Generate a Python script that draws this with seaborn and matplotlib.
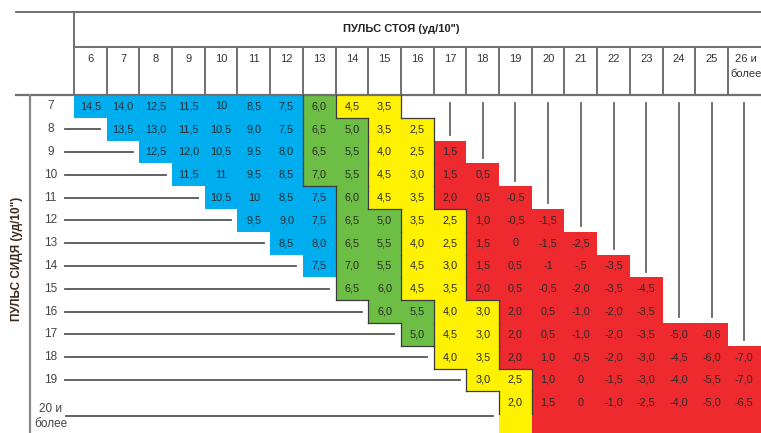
import numpy as np
import matplotlib
matplotlib.use("Agg")
import matplotlib.pyplot as plt
import seaborn as sns
from matplotlib import font_manager
from matplotlib.colors import ListedColormap

# standing pulse (columns) and sitting pulse (rows), beats per 10 s
standing = ["6", "7", "8", "9", "10", "11", "12", "13", "14", "15", "16",
            "17", "18", "19", "20", "21", "22", "23", "24", "25", "26 и\nболее"]
sitting = ["7", "8", "9", "10", "11", "12", "13", "14", "15", "16", "17",
           "18", "19", "20 и\nболее"]

# first standing pulse for each sitting row
row_start = [6, 7, 8, 9, 10, 11, 12, 13, 14, 15, 16, 17, 18, 19]

row_values = [
    ["14,5", "14,0", "12,5", "11,5", "10", "8,5", "7,5", "6,0", "4,5", "3,5"],
    ["13,5", "13,0", "11,5", "10,5", "9,0", "7,5", "6,5", "5,0", "3,5", "2,5"],
    ["12,5", "12,0", "10,5", "9,5", "8,0", "6,5", "5,5", "4,0", "2,5", "1,5"],
    ["11,5", "11", "9,5", "8,5", "7,0", "5,5", "4,5", "3,0", "1,5", "0,5"],
    ["10,5", "10", "8,5", "7,5", "6,0", "4,5", "3,5", "2,0", "0,5", "-0,5"],
    ["9,5", "9,0", "7,5", "6,5", "5,0", "3,5", "2,5", "1,0", "-0,5", "-1,5"],
    ["8,5", "8,0", "6,5", "5,5", "4,0", "2,5", "1,5", "0", "-1,5", "-2,5"],
    ["7,5", "7,0", "5,5", "4,5", "3,0", "1,5", "0,5", "-1", "-,5", "-3,5"],
    ["6,5", "6,0", "4,5", "3,5", "2,0", "0,5", "-0,5", "-2,0", "-3,5", "-4,5"],
    ["6,0", "5,5", "4,0", "3,0", "2,0", "0,5", "-1,0", "-2,0", "-3,5"],
    ["5,0", "4,5", "3,0", "2,0", "0,5", "-1,0", "-2,0", "-3,5", "-5,0", "-0,6"],
    ["4,0", "3,5", "2,0", "1,0", "-0,5", "-2,0", "-3,0", "-4,5", "-6,0", "-7,0"],
    ["3,0", "2,5", "1,0", "0", "-1,5", "-3,0", "-4,0", "-5,5", "-7,0"],
    ["2,0", "1,5", "0", "-1,0", "-2,5", "-4,0", "-5,0", "-6,5"],
]

# how many cells of each colour zone in every row (left to right)
n_blue = [7, 6, 5, 4, 4, 3, 2, 1, 0, 0, 0, 0, 0, 0]
n_green = [1, 2, 2, 2, 1, 2, 2, 2, 2, 2, 1, 0, 0, 0]
n_yellow = [2, 2, 2, 2, 2, 2, 2, 2, 2, 2, 2, 2, 2, 1]
n_red = [0, 0, 1, 2, 3, 3, 4, 5, 6, 5, 7, 8, 7, 7]

zone_colors = ["#00aeef", "#6dbe45", "#fff200", "#ee2a2e"]

title_top = 'ПУЛЬС СТОЯ (уд/10")'
title_left = 'ПУЛЬС СИДЯ (уд/10")'

# fonts: a narrow face if there is one
installed = {f.name for f in font_manager.fontManager.ttflist}
narrow = "Liberation Sans Narrow" if "Liberation Sans Narrow" in installed else "Liberation Sans"
fam = [narrow, "DejaVu Sans"]

# build matrices for the heatmap
n_rows, n_cols = len(sitting), len(standing)
zones = np.full((n_rows + 1, n_cols), np.nan)
annot = np.full((n_rows + 1, n_cols), "", dtype=object)
for i in range(n_rows):
    j0 = row_start[i] - 6
    seq = [1] * n_blue[i] + [2] * n_green[i] + [3] * n_yellow[i] + [4] * n_red[i]
    for k, z in enumerate(seq):
        zones[i, j0 + k] = z
        annot[i, j0 + k] = row_values[i][k]
# last row runs down to the bottom edge
zones[n_rows] = zones[n_rows - 1]

fig = plt.figure(figsize=(7.61, 4.33), dpi=100)
ax = fig.add_axes([0, 0, 1, 1])

sns.heatmap(zones, cmap=ListedColormap(zone_colors), vmin=0.5, vmax=4.5,
            annot=annot, fmt="", cbar=False, ax=ax, linewidths=0,
            annot_kws={"fontsize": 7.8, "color": "#2a2a2a", "family": fam})

x_left = -74 / 32.7
ax.set_xlim(x_left, n_cols + 0.01)
ax.set_ylim((433 - 95) / 22.8, -95 / 22.8)
ax.axis("off")

line_c = "#707070"
y_top = -83 / 22.8
y_mid = -48 / 22.8
x_box = -58 / 32.7

# header frame
ax.plot([x_box, n_cols], [y_top, y_top], color=line_c, lw=1.4, clip_on=False)
ax.plot([0, n_cols], [y_mid, y_mid], color=line_c, lw=1.4)
ax.plot([x_box, n_cols], [0, 0], color=line_c, lw=1.6)
ax.plot([0, 0], [y_top, 0], color=line_c, lw=1.4)
for j in range(1, n_cols):
    ax.plot([j, j], [y_mid, 0], color=line_c, lw=1.4)
ax.plot([-44 / 32.7, -44 / 32.7], [0, 20], color="#888888", lw=1.6)

ax.text(n_cols / 2 - 0.5, (y_top + y_mid) / 2, title_top, ha="center", va="center",
        fontsize=8, fontweight="bold", color="#222222", family=fam)
for j, lab in enumerate(standing):
    ax.text(j + 0.5 if j < n_cols - 1 else j + 0.55, y_mid + 0.3, lab,
            ha="center", va="top", fontsize=8, color="#333333", family=fam,
            linespacing=1.7)

# row labels and leader lines
for i, lab in enumerate(sitting):
    yc = i + 0.5 if i < n_rows - 1 else i + 1.1
    ax.text(-0.72, yc, lab, ha="center", va="center", fontsize=8.5,
            color="#444444", family=fam, linespacing=1.3)
    if i > 0:
        x0 = -0.28 if i < n_rows - 1 else -0.25
        ax.plot([x0, row_start[i] - 6 - 0.2], [yc, yc], color="#555555", lw=1.3)

ax.text(-1.75, 7.2, title_left, rotation=90, ha="center", va="center",
        fontsize=8.5, fontweight="bold", color="#3b2a1c", family=fam)

# vertical guides down to the coloured cells
for j in range(11, n_cols):
    first = np.where(~np.isnan(zones[:, j]))[0][0]
    ax.plot([j + 0.5, j + 0.5], [0.35, first - 0.25], color="#666666", lw=1.3)

# dark borders between colour zones
def edge(a, b):
    a = 0 if np.isnan(a) else int(a)
    b = 0 if np.isnan(b) else int(b)
    if a == b or {a, b} in ({0, 1}, {0, 4}):
        return False
    return True

for i in range(n_rows):
    for j in range(n_cols - 1):
        if edge(zones[i, j], zones[i, j + 1]):
            ax.plot([j + 1, j + 1], [i, i + 1], color="#3a3a3a", lw=0.9)
for i in range(n_rows - 1):
    for j in range(n_cols):
        if edge(zones[i, j], zones[i + 1, j]):
            ax.plot([j, j + 1], [i + 1, i + 1], color="#3a3a3a", lw=0.9)

fig.savefig("out.png", dpi=100)
